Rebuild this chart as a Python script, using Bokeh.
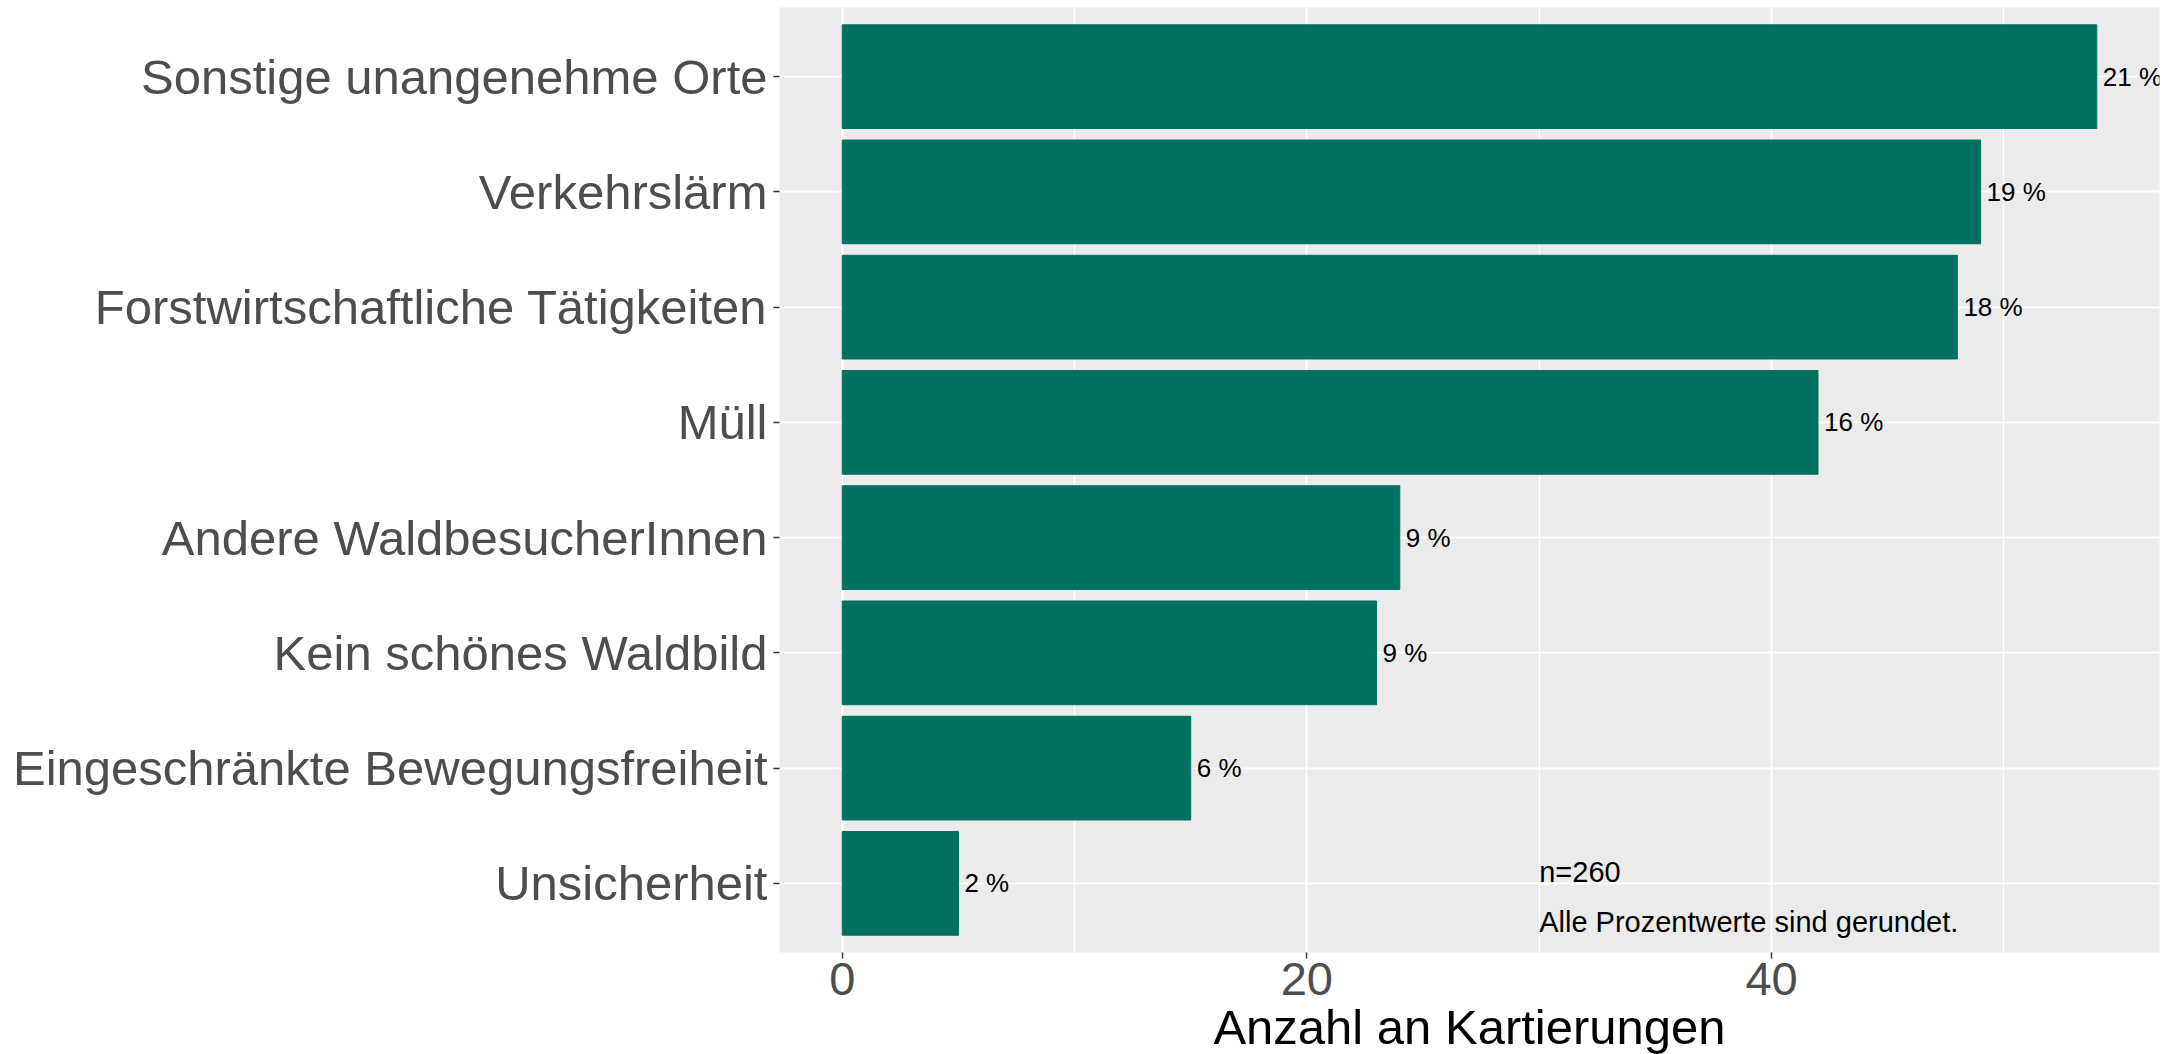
from bokeh.plotting import figure
from bokeh.models import ColumnDataSource, FactorRange, Range1d, FixedTicker
from bokeh.core.properties import value
from bokeh.embed import file_html
from bokeh.resources import INLINE

# Data (top to bottom as shown)
categories = [
    "Sonstige unangenehme Orte",
    "Verkehrslärm",
    "Forstwirtschaftliche Tätigkeiten",
    "Müll",
    "Andere WaldbesucherInnen",
    "Kein schönes Waldbild",
    "Eingeschränkte Bewegungsfreiheit",
    "Unsicherheit",
]
counts = [54, 49, 48, 42, 24, 23, 15, 5]
x_ticks = [0, 20, 40]
x_minor_ticks = [10, 30, 50]

n_total = sum(counts)
pct_labels = [f"{int(c / n_total * 100 + 0.5)} %" for c in counts]
note_lines = [f"n={n_total}", "Alle Prozentwerte sind gerundet."]
note_x = 30

FONT = "Liberation Sans"
BAR = "#00705F"

src = ColumnDataSource(dict(cat=categories, count=counts, label=pct_labels))

xmax = max(counts)
pad = xmax * 0.05
p = figure(
    y_range=FactorRange(factors=list(reversed(categories)), range_padding=0.1,
                        range_padding_units="absolute"),
    x_range=Range1d(-pad, xmax + pad),
    frame_width=1380, frame_height=945,
    min_border_left=779, min_border_right=10, min_border_top=7, min_border_bottom=92,
    output_backend="svg", toolbar_location=None,
    background_fill_color="#EBEBEB", border_fill_color="white",
)
p.outline_line_color = None

p.hbar(y="cat", left=0, right="count", height=0.9, source=src,
       fill_color=BAR, line_color=BAR, line_width=1)

p.text(x="count", y="cat", text="label", source=src, x_offset=6,
       text_align="left", text_baseline="middle", text_font_size="26px",
       text_font=value(FONT), text_color="black")

p.text(x=[note_x], y=[categories[-1]], text=[note_lines[0]], y_offset=-11,
       text_align="left", text_baseline="alphabetic", text_font_size="29px",
       text_font=value(FONT), text_color="black")
p.text(x=[note_x], y=[categories[-1]], text=[note_lines[1]], y_offset=39,
       text_align="left", text_baseline="alphabetic", text_font_size="29px",
       text_font=value(FONT), text_color="black")

# x axis
p.xaxis.ticker = FixedTicker(ticks=x_ticks, minor_ticks=x_minor_ticks)
p.xaxis.axis_label = "Anzahl an Kartierungen"
p.xaxis.axis_label_text_font = FONT
p.xaxis.axis_label_text_font_size = "49px"
p.xaxis.axis_label_text_font_style = "normal"
p.xaxis.axis_label_text_color = "black"
p.xaxis.axis_label_standoff = 2
p.xaxis.major_label_text_font = FONT
p.xaxis.major_label_text_font_size = "47px"
p.xaxis.major_label_text_color = "#4D4D4D"
p.xaxis.major_label_standoff = 4

# y axis
p.yaxis.major_label_text_font = FONT
p.yaxis.major_label_text_font_size = "49px"
p.yaxis.major_label_text_color = "#4D4D4D"
p.yaxis.major_label_standoff = 6

for ax in (p.xaxis, p.yaxis):
    ax.axis_line_color = None
    ax.major_tick_line_color = "#333333"
    ax.major_tick_line_width = 1.5
    ax.major_tick_out = 6
    ax.major_tick_in = 0
    ax.minor_tick_line_color = None

p.xgrid.grid_line_color = "white"
p.xgrid.grid_line_width = 1.8
p.xgrid.minor_grid_line_color = "white"
p.xgrid.minor_grid_line_width = 1.2
p.ygrid.grid_line_color = "white"
p.ygrid.grid_line_width = 1.8

open("out.html", "w").write(file_html(p, INLINE))
